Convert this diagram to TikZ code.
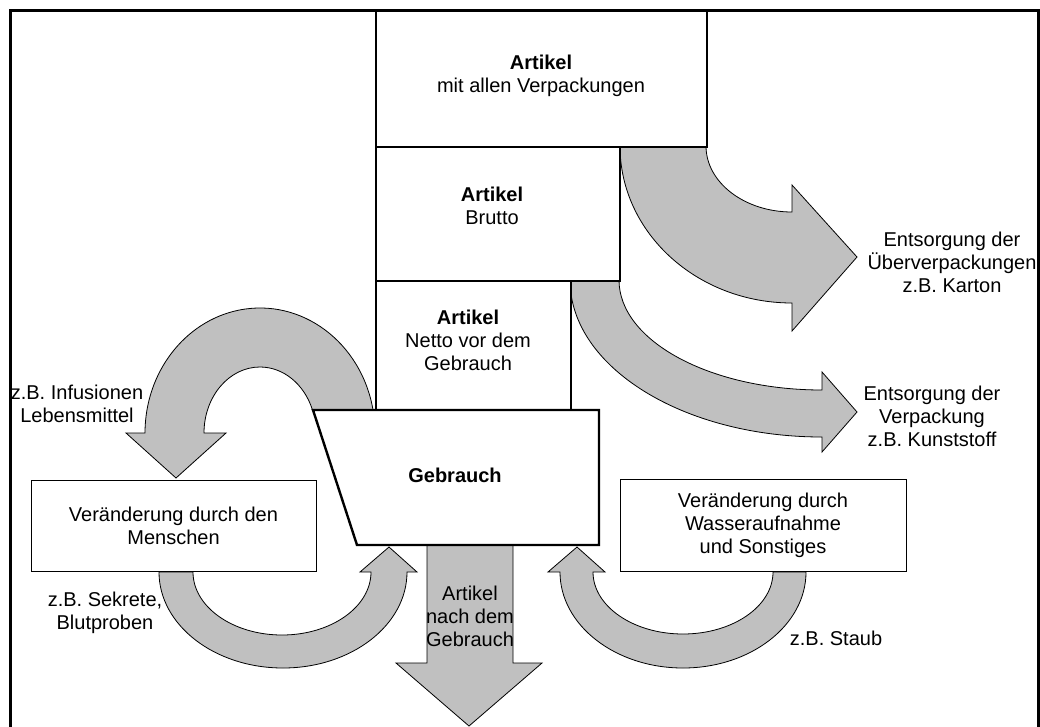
\documentclass[tikz,border=0pt]{standalone}
\usepackage{fontspec}
\setmainfont{Liberation Sans}
\definecolor{arrowgray}{HTML}{C0C0C0}
\tikzset{
  flow/.style={fill=arrowgray, draw=black, line width=0.8pt, line join=miter},
  mainbox/.style={draw=black, line width=2.4pt, fill=white},
  sidebox/.style={draw=black, line width=0.8pt, fill=white, font=\fontsize{20}{23}\selectfont, align=center, inner sep=0pt},
  lbl/.style={font=\fontsize{20}{23}\selectfont, align=center, inner sep=0pt},
  frame/.style={draw=black, line width=3pt},
}
\begin{document}
\begin{tikzpicture}[x=1pt, y=-1pt]
\useasboundingbox (0,0) rectangle (1040,726);
% outer frame
\draw[frame] (10,740) -- (10,10) -- (1038,10) -- (1038,740);

% block arrows
\filldraw[flow] (620,146) arc[start angle=180, end angle=90, x radius=172, y radius=157] -- (792,331) -- (857,257) -- (792,185) -- (792,212) arc[start angle=90, end angle=180, x radius=86, y radius=66] -- cycle;
\filldraw[flow] (570,280) arc[start angle=180, end angle=90, x radius=252, y radius=157] -- (822,452) -- (857,412) -- (822,372) -- (822,390) arc[start angle=90, end angle=180, x radius=203, y radius=110] -- cycle;
\filldraw[flow] ({260+115*cos(10.6)},410) arc[start angle=-10.6, end angle=-180, x radius=115, y radius=125] -- (126,433) -- (176,478) -- (226,433) -- (204,433) arc[start angle=-180, end angle=-20.4, x radius=56, y radius=66] -- cycle;
\filldraw[flow] (159,572) arc[start angle=180, end angle=0, x radius=124, y radius=96] -- (417,572) -- (389,547) -- (360,572) -- (371,572) arc[start angle=0, end angle=180, x radius=89, y radius=63] -- cycle;
\filldraw[flow] (806,572) arc[start angle=0, end angle=180, x radius=123, y radius=96] -- (548,572) -- (577,547) -- (605,572) -- (593,572) arc[start angle=180, end angle=0, x radius=90, y radius=62] -- cycle;
\filldraw[flow] (427,545) -- (427,663) -- (396,663) -- (469,726) -- (542,663) -- (513,663) -- (513,545) -- cycle;

% main boxes
\node[mainbox, minimum width=331pt, minimum height=136pt, anchor=north west] (b1) at (375,10) {};
\node[mainbox, minimum width=244pt, minimum height=134pt, anchor=north west] (b2) at (375,146) {};
\node[mainbox, minimum width=195pt, minimum height=130pt, anchor=north west] (b3) at (375,280) {};
\coordinate (g1) at (313,410);
\coordinate (g2) at (599,410);
\coordinate (g3) at (599,545);
\coordinate (g4) at (357,545);
\draw[mainbox] (g1) -- (g2) -- (g3) -- (g4) -- cycle;

% side boxes
\node[sidebox, minimum width=285pt, minimum height=91pt] (m1) at (173.5,525.5) {Veränderung durch den\\Menschen};
\node[sidebox, minimum width=286pt, minimum height=92pt] (m2) at (763,525) {Veränderung durch\\Wasseraufnahme\\und Sonstiges};

% labels
\node[lbl] (t1) at (541,76) {\textbf{Artikel}\\mit allen Verpackungen};
\node[lbl] (t2) at (492,206) {\textbf{Artikel}\\Brutto};
\node[lbl] (t3) at (468,340) {\textbf{Artikel}\\Netto vor dem\\Gebrauch};
\node[lbl] (t4) at (455,475) {\textbf{Gebrauch}};
\node[lbl] (t5) at (952,262) {Entsorgung der\\Überverpackungen\\z.B. Karton};
\node[lbl] (t6) at (932,416) {Entsorgung der\\Verpackung\\z.B. Kunststoff};
\node[lbl] (t7) at (77,404) {z.B. Infusionen\\Lebensmittel};
\node[lbl] (t8) at (105,613) {z.B. Sekrete,\\Blutproben};
\node[lbl] (t9) at (470,616) {Artikel\\nach dem\\Gebrauch};
\node[lbl] (t10) at (836,638) {z.B. Staub};
\end{tikzpicture}
\end{document}
